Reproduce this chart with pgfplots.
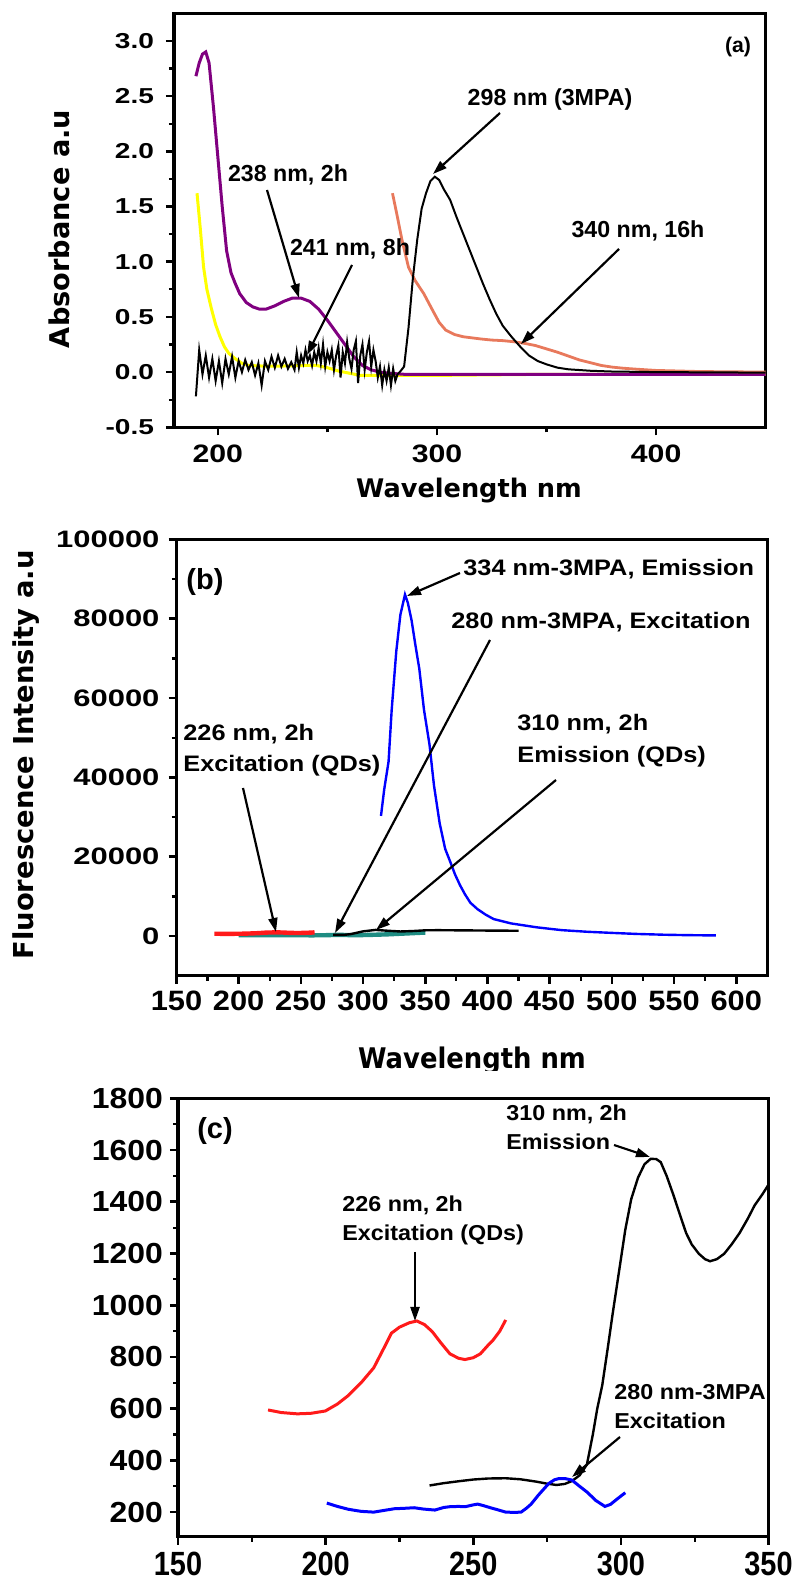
\documentclass[border=0pt]{standalone}
\usepackage{fontspec}
\usepackage{pgfplots}
\usepackage{pgfplotstable}
\pgfplotsset{compat=1.18}
\usetikzlibrary{arrows.meta}
\setmainfont{Liberation Sans}
\newfontfamily\fAy[FakeStretch=1.3]{Liberation Sans}
\newfontfamily\fAx[FakeStretch=1.2]{Liberation Sans}
\newfontfamily\fBx[FakeStretch=1.1]{Liberation Sans}
\newfontfamily\fCy[FakeStretch=1.1]{Liberation Sans}
\newfontfamily\fCx[FakeStretch=0.86]{Liberation Sans}
\newfontfamily\fAnnB[FakeStretch=1.13]{Liberation Sans}
\newfontfamily\fAnnC[FakeStretch=1.08]{Liberation Sans}
\newfontfamily\dvs{DejaVu Sans}
\newfontfamily\dvsN[FakeStretch=0.91]{DejaVu Sans}

\definecolor{cpurple}{HTML}{800080}
\definecolor{cyellow}{HTML}{FFFF00}
\definecolor{corange}{HTML}{E8795C}
\definecolor{cblue}{HTML}{0000FF}
\definecolor{cred}{HTML}{FF1A1A}
\definecolor{cteal}{HTML}{1E8C82}

% ---------- panel (a): absorbance ----------
\pgfplotstableread{
x y
190 2.68
191.5 2.80
193 2.88
194.5 2.90
196 2.80
198 2.40
200 1.95
202 1.50
204 1.10
206 0.90
208 0.80
210 0.71
213 0.63
216 0.59
219 0.57
222 0.57
226 0.60
230 0.64
234 0.67
238 0.67
242 0.64
246 0.57
250 0.47
254 0.36
258 0.25
262 0.14
266 0.06
270 0.02
274 0.00
278 -0.01
285 -0.02
350 -0.02
450 -0.02
}\purpleA
\pgfplotstableread{
x y
190.5 1.62
192 1.30
193.5 0.95
195 0.75
197 0.58
199 0.43
201 0.32
203 0.23
205 0.17
208 0.12
211 0.08
214 0.06
220 0.055
230 0.055
240 0.06
245 0.06
250 0.04
255 0.01
260 -0.01
265 -0.03
300 -0.03
350 -0.02
450 -0.02
}\yellowA
\pgfplotstableread{
x y
190 -0.22
191.5 0.20
193 -0.02
194.5 0.15
196 -0.05
197.5 0.12
199 -0.08
200.5 0.10
202 -0.10
203.5 0.12
205 -0.02
206.5 0.14
208 -0.05
209.5 0.10
211 0.00
212.5 0.11
214 0.02
215.5 0.09
217 -0.03
218.5 0.08
220 -0.12
221.5 0.10
223 0.02
224.5 0.14
226 0.04
227.5 0.15
229 0.05
230.5 0.12
232 0.03
233.5 0.09
235 0.02
236 0.18
237 0.04
238 0.15
239 0.08
240 0.20
241 0.10
242 0.15
243 0.06
244 0.18
245 0.10
246 0.22
247 0.08
248 0.25
249 0.05
250 0.18
251 0.10
252 0.20
253 0.02
254 0.15
255 0.24
256 -0.05
257 0.18
258 0.08
259 0.27
260 0.12
261 0.03
262 0.20
263 0.28
264 -0.10
265 0.15
266 0.25
267 0.02
268 0.18
269 0.28
270 0.05
271 0.20
272 0.10
273 -0.05
274 0.05
275 -0.12
276 0.02
277 -0.08
278 0.04
279 -0.12
280 0.03
281 -0.08
282 -0.02
283 0.00
285 0.05
287 0.40
289 0.85
291 1.20
293 1.48
295 1.62
297 1.73
299 1.77
301 1.74
303 1.66
306 1.56
309 1.40
312 1.25
315 1.10
318 0.95
321 0.80
324 0.66
327 0.53
330 0.42
334 0.32
338 0.23
342 0.15
346 0.10
350 0.07
355 0.04
360 0.025
370 0.012
380 0.005
400 0.0
450 -0.005
}\blackA
\pgfplotstableread{
x y
279.7 1.62
282 1.40
284 1.20
287 0.95
290 0.83
294 0.71
298 0.56
301 0.45
304 0.38
308 0.34
312 0.32
316 0.31
320 0.30
325 0.29
330 0.285
335 0.275
340 0.26
345 0.24
350 0.21
355 0.18
360 0.145
365 0.11
370 0.085
375 0.06
380 0.045
385 0.035
392 0.025
400 0.015
420 0.005
450 0.0
}\orangeA

% ---------- panel (b): fluorescence ----------
\pgfplotstableread{
x y
314.4 30300
317 37000
320.5 44000
323 57000
326.7 71800
330 81000
333.7 86100
336 84000
339 79600
342 73500
345.2 67400
349 57000
353.4 48300
357 38000
361.6 28400
366 22000
370 18800
374 15500
378 12800
382 10500
386.3 8400
392 6800
398.6 5400
405 4300
419 3200
440 2200
460 1500
480 1100
501 800
520 550
542 350
560 250
583.6 170
}\blueB
\pgfplotstableread{
x y
200 230
220 210
240 215
260 205
270 230
280 330
290 250
300 270
310 350
320 450
330 600
340 750
350 900
}\tealB
\pgfplotstableread{
x y
276 305
285 330
290 500
300 1200
310 1566
320 1350
330 1170
340 1280
350 1466
360 1500
380 1450
400 1400
425 1350
}\blackB

% ---------- panel (c): zoom ----------
\pgfplotstableread{
x y
180.5 595
185 585
190.4 580
195 582
199.9 591
204 618
207.7 651
212 700
216.3 758
220 840
222.3 892
225 915
228.3 932
230.9 939
233.5 925
236.1 898
239 855
242.1 812
245 795
247.2 790
250 797
252.4 812
255 845
256.7 865
259 900
261 943
}\redC
\pgfplotstableread{
x y
235.2 303
240 312
245.5 320
250 326
255 330
261 331
266 327
271.3 318
275 310
278.2 305
281 309
283.4 320
286 342
288.5 384
290.5 500
292 600
293.7 691
295.5 830
297.1 958
299.5 1140
301.5 1292
303.5 1410
305.8 1493
308 1545
310.1 1566
312 1565
313.5 1553
315.5 1500
317.8 1426
320 1350
322.1 1279
324 1235
326.4 1199
328.5 1178
330.2 1170
332.5 1178
335 1199
337.5 1235
340.2 1279
343 1335
345.3 1386
348 1430
350 1466
}\blackC
\pgfplotstableread{
x y
200.4 235
204 222
207.7 211
212 203
216.3 200
220 207
223.2 213
227 215
230 217
233 212
237 208
240 218
242.1 221
245 222
247.3 221
250 228
251.5 231
253.5 225
255.8 217
258 210
261 200
264 199
266.2 200
268 215
269.6 231
272 265
275.6 311
277.5 325
279.1 330
281 330
283.4 324
286 300
288.6 277
291.5 245
294.6 222
296.5 230
298 244
300 262
301.5 275
}\blueC

\pgfplotsset{
  panel/.style={
    scale only axis, anchor=south west,
    axis line style={line width=1.6pt},
    tick align=outside, xtick pos=left, ytick pos=left,
    major tick length=4pt, minor tick length=2.5pt,
    major tick style={line width=1.3pt, black},
    minor tick style={line width=1.1pt, black},
    minor x tick num=1, minor y tick num=1,
    scaled y ticks=false,
  },
}
\tikzset{ann/.style={line width=1.1pt, -{Triangle[length=7pt,width=4.5pt]}}}

\begin{document}
\begin{tikzpicture}
\useasboundingbox (0,0) rectangle (399pt,790pt);

% ================= (a) =================
\begin{axis}[panel, at={(87pt,576.35pt)}, width=295.85pt, height=207pt,
  xmin=180, xmax=450, ymin=-0.5, ymax=3.25,
  xtick={200,300,400}, xticklabels={200,300,400},
  ytick={-0.5,0,0.5,1,1.5,2,2.5,3},
  yticklabels={-0.5,0.0,0.5,1.0,1.5,2.0,2.5,3.0},
  yticklabel style={font=\fAy\bfseries\fontsize{10.8}{12}\selectfont, xshift=-2.5pt},
  xticklabel style={font=\fAx\bfseries\fontsize{12.6}{14}\selectfont, yshift=-1.5pt},
]
\addplot[no marks, cyellow, line width=1.5pt] table {\yellowA};
\addplot[no marks, cpurple, line width=1.5pt] table {\purpleA};
\addplot[no marks, corange, line width=1.4pt] table {\orangeA};
\addplot[no marks, black, line width=1pt] table {\blackA};
\end{axis}

% ================= (b) =================
\begin{axis}[panel, at={(88.25pt,302.1pt)}, width=295.4pt, height=218.2pt,
  xmin=150, xmax=625, ymin=-10000, ymax=100000,
  xtick={150,200,250,300,350,400,450,500,550,600},
  xticklabels={150,200,250,300,350,400,450,500,550,600},
  ytick={0,20000,40000,60000,80000,100000},
  yticklabels={0,20000,40000,60000,80000,100000},
  yticklabel style={font=\fAy\bfseries\fontsize{11.9}{13}\selectfont, xshift=-1pt},
  xticklabel style={font=\fBx\bfseries\fontsize{14}{16}\selectfont},
]
\addplot[no marks, cteal, line width=2.2pt] table {\tealB};
\addplot[no marks, cred, line width=2.2pt] table {\redC};
\addplot[no marks, black, line width=1.2pt] table {\blackB};
\addplot[no marks, cblue, line width=1.2pt] table {\blueB};
\end{axis}

% label of (b) whose descenders are cut by panel (c)
\node[font=\dvsN\bfseries\fontsize{14.2}{16}\selectfont, anchor=base]
  at (236pt,{(1580-1069)*0.5pt}) {Wavelength nm};
\fill[white] (170pt,{(1580-1071)*0.5pt}) rectangle (305pt,{(1580-1096)*0.5pt});

% ================= (c) =================
\begin{axis}[panel, at={(89pt,21.65pt)}, width=295.25pt, height=219.2pt,
  xmin=150, xmax=350, ymin=105, ymax=1800,
  xtick={150,200,250,300,350}, xticklabels={150,200,250,300,350},
  ytick={200,400,600,800,1000,1200,1400,1600,1800},
  yticklabels={200,400,600,800,1000,1200,1400,1600,1800},
  yticklabel style={font=\fCy\bfseries\fontsize{14.5}{16}\selectfont},
  xticklabel style={font=\fCx\bfseries\fontsize{16.8}{18}\selectfont},
]
\addplot[no marks, cred, line width=1.5pt] table {\redC};
\addplot[no marks, black, line width=1.2pt] table {\blackC};
\addplot[no marks, cblue, line width=1.5pt] table {\blueC};
\end{axis}

% ================= labels and arrows (pixel frame of the reference) =================
\begin{scope}[yshift=790pt, x=0.5pt, y=-0.5pt]
  % axis titles
  \node[font=\dvs\bfseries\fontsize{13.6}{15}\selectfont, rotate=90] at (59,229) {Absorbance a.u};
  \node[font=\dvs\bfseries\fontsize{12.8}{14}\selectfont, anchor=base] at (469,498) {Wavelength nm};
  \node[font=\dvs\bfseries\fontsize{13.7}{15}\selectfont, rotate=90] at (26,755) {Fluorescence Intensity a.u};

  % (a)
  \begin{scope}[every node/.style={font=\bfseries\fontsize{11.6}{13}\selectfont, inner sep=0pt}]
    \node[font=\bfseries\fontsize{10.6}{12}\selectfont] at (738,47) {(a)};
    \node[anchor=base] at (550,106) {298 nm (3MPA)};
    \node[anchor=base] at (288,182) {238 nm, 2h};
    \node[anchor=base] at (350,256) {241 nm, 8h};
    \node[anchor=base] at (638,238) {340 nm, 16h};
  \end{scope}
  \draw[ann] (500,113) -- (433,174);
  \draw[ann] (267,190) -- (299,298);
  \draw[ann] (352,265) -- (307,355);
  \draw[ann] (619,249) -- (521,344);

  % (b)
  \node[font=\bfseries\fontsize{14.5}{16}\selectfont, inner sep=0pt] at (205,582) {(b)};
  \begin{scope}[every node/.style={font=\fAnnB\bfseries\fontsize{11.2}{13}\selectfont, inner sep=0pt, anchor=base west}]
    \node at (463,576) {334 nm-3MPA, Emission};
    \node at (451,629) {280 nm-3MPA, Excitation};
    \node at (183,741) {226 nm, 2h};
    \node at (183,772) {Excitation (QDs)};
    \node at (517,731) {310 nm, 2h};
    \node at (517,763) {Emission (QDs)};
  \end{scope}
  \draw[ann] (460,573) -- (407,596);
  \draw[ann] (490,640) -- (335,933);
  \draw[ann] (243,788) -- (276,932);
  \draw[ann] (556,780) -- (376,930);

  % (c)
  \node[font=\bfseries\fontsize{14.5}{16}\selectfont, inner sep=0pt] at (215,1131) {(c)};
  \begin{scope}[every node/.style={font=\fAnnC\bfseries\fontsize{10.8}{12}\selectfont, inner sep=0pt, anchor=base west}]
    \node at (506,1121) {310 nm, 2h};
    \node at (506,1150) {Emission};
    \node at (342,1212) {226 nm, 2h};
    \node at (342,1241) {Excitation (QDs)};
    \node at (614,1400) {280 nm-3MPA};
    \node at (614,1429) {Excitation};
  \end{scope}
  \draw[ann] (614,1145) -- (650,1157);
  \draw[ann] (415,1252) -- (415,1321);
  \draw[ann] (620,1437) -- (572,1477);
\end{scope}
\end{tikzpicture}
\end{document}
